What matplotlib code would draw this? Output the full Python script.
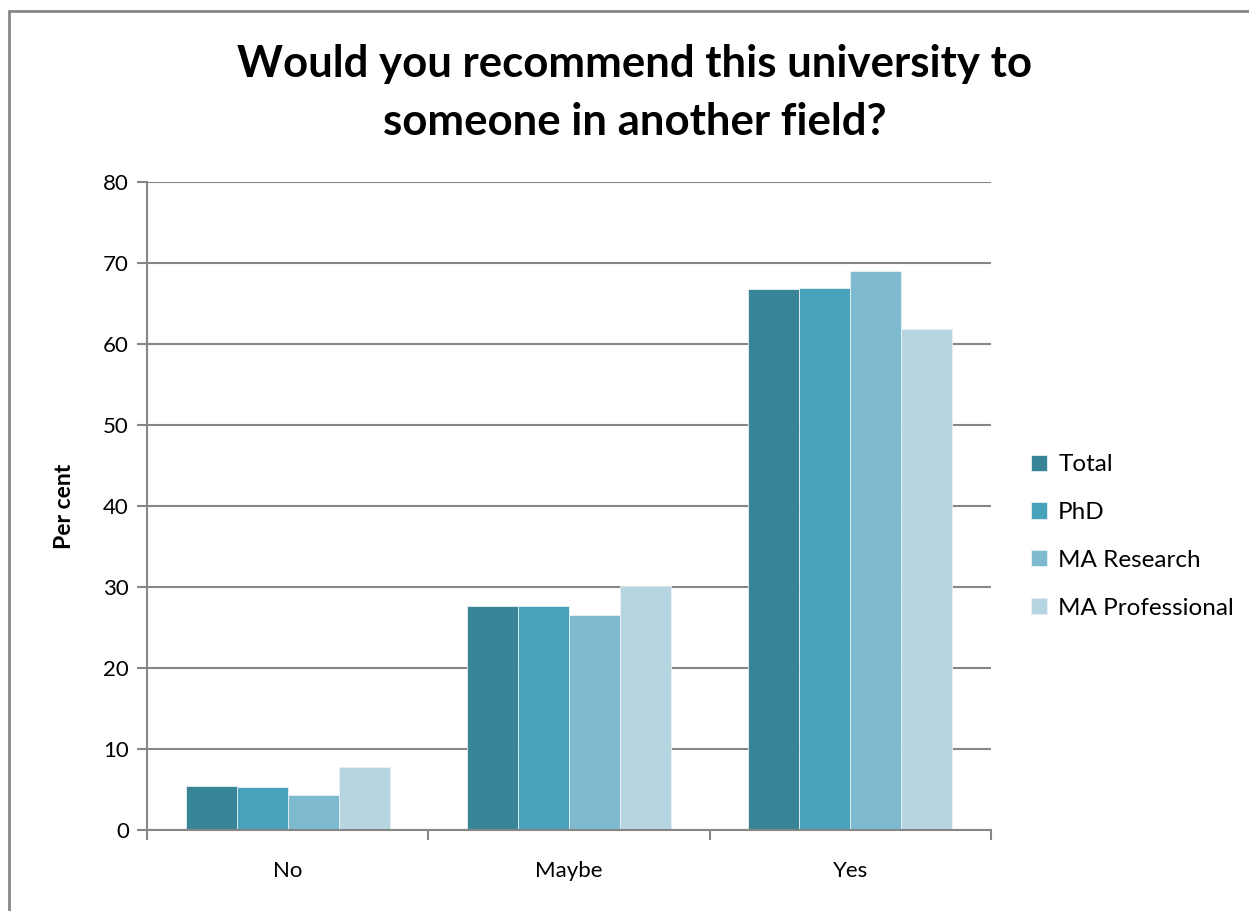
import numpy as np
import matplotlib.pyplot as plt
from matplotlib.patches import Rectangle

categories = ["No", "Maybe", "Yes"]
series = ["Total", "PhD", "MA Research", "MA Professional"]
total = [5.4, 27.7, 66.8]
phd = [5.3, 27.6, 66.9]
ma_research = [4.3, 26.6, 69.0]
ma_professional = [7.8, 30.1, 61.9]
colors = ["#398598", "#48a2bb", "#7dbad0", "#b6d5e0"]

plt.rcParams["font.family"] = ["Lato", "DejaVu Sans"]

fig = plt.figure(figsize=(12.49, 9.11), dpi=100)
ax = fig.add_axes([0.1177, 0.0889, 0.6757, 0.7113])

x = np.arange(len(categories))
width = 0.1815
values = [total, phd, ma_research, ma_professional]
for i, (name, vals) in enumerate(zip(series, values)):
    ax.bar(x + (i - 1.5) * width, vals, width, color=colors[i], label=name,
           edgecolor="#e8f1f4", linewidth=0.6, zorder=3)

ax.set_xlim(-0.5, 2.5)
ax.set_ylim(0, 80)
ax.set_yticks(range(0, 81, 10))
ax.set_xticks(x)
ax.set_xticklabels(categories, fontsize=16)
ax.tick_params(axis="x", length=0, pad=22)
ax.set_xticks([-0.5, 0.5, 1.5, 2.5], minor=True)
ax.tick_params(axis="x", which="minor", length=7, color="#868686", width=1.5, direction="out")
ax.tick_params(axis="y", labelsize=16, length=7, color="#868686", width=1.5, direction="out", pad=6)
ax.grid(axis="y", color="#868686", linewidth=1.5, zorder=0)
for s in ["top", "right"]:
    ax.spines[s].set_visible(False)
for s in ["left", "bottom"]:
    ax.spines[s].set_color("#868686")
    ax.spines[s].set_linewidth(1.5)
ax.spines["bottom"].set_zorder(4)

ax.set_ylabel("Per cent", fontsize=16.5, fontweight="bold", labelpad=20)
fig.suptitle("Would you recommend this university to\nsomeone in another field?",
             x=0.508, y=0.952, fontsize=31.5, fontweight="bold", linespacing=1.55)

ax.legend(loc="center left", bbox_to_anchor=(1.022, 0.453), frameon=False,
          fontsize=17.5, handlelength=0.65, handleheight=0.65, handletextpad=0.45,
          labelspacing=1.1)

fig.patches.append(Rectangle((9 / 1249, -0.1), 1.2, 1 - 11 / 911 + 0.1,
                             transform=fig.transFigure, fill=False,
                             edgecolor="#868686", linewidth=2))

fig.savefig("out.png", dpi=100)
